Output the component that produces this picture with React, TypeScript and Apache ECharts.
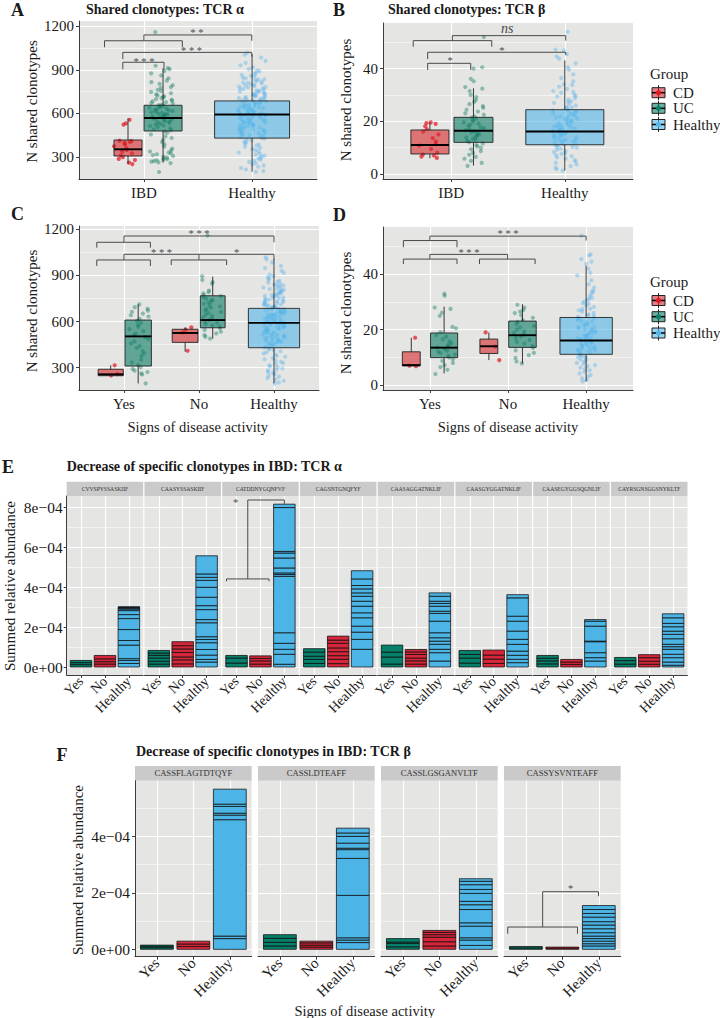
import React, { useEffect, useRef } from 'react';
import * as echarts from 'echarts';

// ====================== DATA ======================
const abCategories = ['IBD', 'Healthy'];
const activityCategories = ['Yes', 'No', 'Healthy'];
const groupNames = ['CD', 'UC', 'Healthy'];

const alphaTicks = [300, 600, 900, 1200];
const alphaMinor = [450, 750, 1050];
const betaTicks = [0, 20, 40];
const betaMinor = [10, 30, 50];

// TCR alpha: N shared clonotypes per individual
const alphaCD = [556, 531, 523, 412, 409, 404, 398, 391, 386, 374, 362, 349, 338, 326, 312, 299, 287, 279, 262, 251];
const alphaUC = [1160, 928, 912, 905, 893, 876, 861, 842, 826, 815, 803, 794, 781, 776, 762, 755, 748, 739, 731, 724, 718, 712, 705, 699, 694, 688, 683, 677, 672, 668, 661, 657, 652, 648, 644, 639, 633, 629, 626, 621, 617, 612, 608, 603, 599, 596, 591, 587, 583, 579, 574, 571, 566, 562, 557, 553, 548, 544, 539, 535, 529, 524, 518, 513, 506, 498, 491, 484, 476, 468, 455, 442, 431, 417, 402, 388, 372, 358, 346, 338, 331, 326, 319, 313, 307, 302, 296, 291, 286, 281, 277, 272, 268, 263, 258, 197];
const alphaHealthy = [1018, 1005, 985, 962, 948, 931, 918, 905, 897, 889, 880, 872, 866, 859, 853, 846, 841, 835, 829, 822, 818, 811, 806, 801, 795, 789, 784, 779, 773, 769, 764, 758, 753, 749, 744, 738, 733, 729, 724, 719, 714, 709, 705, 700, 696, 691, 686, 682, 677, 673, 668, 664, 659, 655, 651, 646, 642, 637, 633, 629, 624, 620, 616, 611, 607, 603, 598, 594, 590, 585, 581, 577, 572, 568, 564, 559, 555, 551, 546, 542, 537, 533, 528, 524, 519, 515, 510, 505, 501, 496, 491, 486, 481, 476, 471, 466, 461, 455, 450, 444, 438, 432, 426, 420, 414, 407, 400, 393, 386, 378, 371, 363, 355, 347, 339, 331, 323, 316, 309, 302, 295, 288, 281, 274, 266, 258, 250, 242, 233, 224, 215, 204, 198, 452, 468, 477, 489, 497, 508, 516, 527, 534, 545, 553, 561, 569, 578, 586, 593, 601, 609, 614, 622, 631, 639, 645, 653, 661, 670, 679, 686, 694, 703, 712, 721, 731, 742, 756, 768, 781, 797, 812, 834];
const alphaCDYes = [316, 258, 249];
const alphaCDNo = [562, 548, 530, 410];
const alphaUCYes = [712, 694, 683, 671, 664, 652, 641, 633, 618, 604, 592, 579, 566, 551, 538, 522, 511, 497, 486, 471, 458, 442, 428, 409, 393, 376, 352, 334, 318, 304, 292, 281, 272, 263, 256, 198];
const alphaUCNo = [1160, 895, 871, 858, 846, 802, 791, 783, 772, 766, 758, 749, 741, 733, 724, 716, 707, 698, 690, 681, 672, 663, 655, 646, 637, 628, 619, 611, 602, 593, 584, 576, 567, 557, 546, 534, 523, 512, 501, 490];

// TCR beta
const betaCD = [19.6, 19.3, 19.0, 18.1, 17.0, 16.1, 15.0, 13.6, 12.3, 11.6, 10.8, 9.5, 8.1, 7.4, 7.0, 6.6, 6.1];
const betaUC = [52.0, 40.5, 40.0, 36.1, 35.2, 33.0, 32.4, 31.5, 30.0, 29.2, 28.1, 27.3, 26.5, 25.8, 25.1, 24.4, 23.7, 23.0, 22.5, 21.9, 21.4, 21.0, 20.5, 20.0, 19.6, 19.2, 18.7, 18.3, 17.8, 17.4, 17.0, 16.6, 16.2, 15.8, 15.4, 15.0, 14.6, 14.2, 13.8, 13.4, 13.0, 12.5, 12.1, 11.6, 11.0, 10.5, 10.0, 9.4, 8.7, 8.0, 7.3, 6.5, 5.8, 5.0, 4.2, 3.1];
const betaHealthy = [54.0, 47.2, 46.8, 45.5, 44.6, 43.8, 42.0, 40.5, 39.6, 37.8, 36.4, 35.2, 34.0, 33.1, 32.3, 31.5, 30.8, 30.1, 29.4, 28.8, 28.2, 27.6, 27.0, 26.5, 26.0, 25.5, 25.0, 24.6, 24.2, 23.8, 23.4, 23.0, 22.6, 22.2, 21.8, 21.4, 21.0, 20.6, 20.2, 19.8, 19.4, 19.0, 18.6, 18.3, 18.0, 17.6, 17.3, 17.0, 16.7, 16.4, 16.1, 15.8, 15.5, 15.2, 14.9, 14.6, 14.3, 14.0, 13.7, 13.4, 13.1, 12.8, 12.5, 12.2, 11.9, 11.6, 11.2, 10.8, 10.4, 10.0, 9.6, 9.2, 8.8, 8.4, 8.0, 7.6, 7.2, 6.8, 6.3, 5.8, 5.3, 4.8, 4.2, 3.6, 3.0, 2.4, 1.8, 1.3, 10.3, 11.1, 12.4, 13.2, 14.1, 14.8, 15.6, 16.3, 17.1, 17.8, 18.5, 19.3, 20.1, 20.9, 21.7, 22.8, 24.1, 25.3, 27.4, 29.6, 31.2, 33.8];
const betaCDYes = [17.1, 7.0, 6.8];
const betaCDNo = [19.0, 13.9, 9.0];
const betaUCYes = [33.0, 32.3, 28.0, 27.5, 26.1, 25.0, 21.0, 20.5, 19.1, 18.0, 17.5, 16.5, 15.8, 15.1, 14.5, 14.0, 13.5, 13.0, 12.4, 12.0, 11.5, 11.0, 10.5, 10.0, 9.3, 8.7, 8.0, 7.2, 6.5, 5.5, 4.0];
const betaUCNo = [29.0, 28.0, 27.1, 26.5, 26.0, 25.2, 24.3, 23.5, 22.8, 22.0, 21.3, 20.8, 20.0, 19.4, 18.8, 18.2, 17.6, 17.0, 16.3, 15.6, 15.0, 14.2, 13.4, 12.5, 11.6, 10.8, 9.8, 8.5, 7.8];

// Box statistics: [lower whisker, Q1, median, Q3, upper whisker]
const boxAlphaCD = [250, 307, 353, 417, 566];
const boxAlphaUC = [261, 479, 568, 656, 910];
const boxAlphaHealthy = [199, 430, 592, 686, 1008];
const boxBetaCD = [6.0, 7.6, 11.0, 16.7, 19.5];
const boxBetaUC = [3.2, 12.0, 16.4, 21.5, 32.5];
const boxBetaHealthy = [1.3, 11.1, 16.1, 24.4, 43.1];
const boxAlphaCDYes = [248, 248, 257, 290, 316];
const boxAlphaUCYes = [198, 311, 504, 610, 712];
const boxAlphaCDNo = [404, 465, 526, 550, 562];
const boxAlphaUCNo = [489, 560, 610, 768, 892];
const boxBetaCDYes = [6.9, 6.9, 7.2, 12.0, 17.1];
const boxBetaUCYes = [4.2, 9.9, 13.5, 18.8, 28.3];
const boxBetaCDNo = [9.0, 11.4, 14.0, 16.6, 19.0];
const boxBetaUCNo = [7.8, 13.6, 18.0, 23.1, 29.2];

// Panels E / F: summed relative abundance, per individual segments (units of 1e-5)
const eClonotypes = ['CVVSPYSSASKIIF', 'CAASYSSASKIIF', 'CATDDNYGQNFVF', 'CAGSNTGNQFYF', 'CAASAGGATNKLIF', 'CAASGYGGATNKLIF', 'CAASEGYGGSQGNLIF', 'CAYRSGNSGGSNYKLTF'];
const eYes = [[1.2, 1.0, 1.1], [1.5, 1.4, 1.6, 1.3, 1.2, 1.3], [2.0, 2.5, 1.3], [1.8, 2.0, 1.6, 2.1, 1.7], [1.5, 3.5, 2.5, 3.5], [2.0, 2.5, 1.8, 2.0], [1.6, 1.5, 1.3, 1.4], [1.5, 1.7, 1.6]];
const eNo = [[1.5, 1.2, 1.4, 1.7], [1.6, 2.0, 1.5, 2.2, 1.8, 1.6, 2.0], [1.5, 1.6, 1.2, 1.3], [1.7, 2.2, 1.8, 2.0, 1.9, 2.3, 1.6, 2.0], [1.5, 1.6, 1.4, 1.8, 1.3, 1.2], [1.8, 2.2, 2.0, 2.5], [1.3, 1.2, 1.3], [1.4, 1.5, 1.8, 1.5]];
const eHealthy = [
  [1.8, 1.5, 0.9, 6.8, 2.3, 5.5, 5.5, 2.0, 2.0, 0.8, 0.5, 0.2, 0.2, 0.2],
  [2.5, 1.3, 2.2, 2.8, 3.4, 1.6, 1.4, 7.0, 1.6, 5.0, 2.0, 4.2, 5.0, 3.5, 1.5, 1.7, 9.1],
  [1.4, 5.0, 2.5, 3.0, 5.3, 28.3, 0.9, 0.8, 2.5, 5.0, 2.5, 0.8, 22.0, 1.7],
  [8.9, 5.0, 3.6, 3.0, 4.2, 2.5, 3.3, 2.5, 2.5, 1.7, 2.0, 1.7, 3.3, 4.1],
  [3.0, 4.2, 1.7, 2.5, 1.6, 1.7, 2.5, 5.8, 3.9, 1.1, 2.5, 1.4, 1.1, 2.5, 1.7],
  [2.2, 1.7, 2.0, 2.1, 3.4, 2.5, 4.1, 5.0, 2.5, 9.2, 1.6],
  [3.0, 1.7, 2.5, 5.5, 0.3, 7.5, 2.5, 0.8],
  [0.9, 1.6, 2.2, 1.7, 2.5, 1.3, 1.2, 2.8, 2.2, 1.6, 2.2, 1.7, 2.8, 2.0],
];
const fClonotypes = ['CASSFLAGTDTQYF', 'CASSLDTEAFF', 'CASSLGSGANVLTF', 'CASSYSVNTEAFF'];
const fYes = [[0.6, 0.5, 0.4], [1.2, 1.3, 1.4, 1.3], [0.9, 1.2, 0.5, 1.2], [0.5, 0.5]];
const fNo = [[1.0, 0.9, 1.0], [0.8, 0.7, 0.8, 0.6], [1.2, 1.5, 1.6, 0.9, 0.8, 0.7], [0.4, 0.4]];
const fHealthy = [
  [3.8, 0.9, 41.2, 1.6, 0.7, 2.4, 0.8, 5.3],
  [2.4, 0.9, 0.8, 15.0, 13.1, 3.1, 0.5, 1.8, 2.4, 1.2, 1.7],
  [1.4, 1.9, 0.8, 4.1, 1.2, 4.7, 1.7, 1.2, 2.8, 1.4, 1.7, 1.2, 0.9],
  [1.2, 0.8, 0.9, 0.9, 0.9, 1.2, 1.4, 1.3, 1.2, 1.6, 1.3, 1.4, 1.4],
];
const abundTicks = [0, 20, 40, 60, 80];
const abundMinor = [10, 30, 50, 70];
const abundTicksF = [0, 20, 40];
const abundMinorF = [10, 30, 50];

// ====================== STYLE ======================
const FONT = 'Liberation Serif';
const TXT = '#1a1a1a';
const AXIS = '#3c3c3c';
const PANEL_BG = '#e5e5e3';
const STRIP_BG = '#cacaca';
const BOX_FILL: any = { CD: 'rgba(214,40,45,0.6)', UC: 'rgba(8,122,98,0.6)', Healthy: 'rgba(77,181,233,0.58)' };
const PT_COL: any = { CD: 'rgba(228,22,36,0.9)', UC: 'rgba(22,128,100,0.55)', Healthy: 'rgba(100,183,235,0.55)' };
const KEY_PT: any = { CD: '#e4161f', UC: '#0b806a', Healthy: '#56b4e9' };
const BAR_FILL = ['#05806a', '#d7263a', '#4cb5e6'];

// deterministic horizontal jitter offset in [-1, 1] (position only, not data)
function jitter(i: number) {
  const s = Math.sin((i + 1) * 12.9898 + 78.233) * 43758.5453;
  return (s - Math.floor(s)) * 2 - 1;
}

const fmtNum = (v: number) => String(v);
const fmtSci = (v: number) => (Math.abs(v) < 1e-9 ? '0e+00' : `${Math.round(v / 10)}e\u221204`);

// ====================== BUILDERS ======================
function xAxisOpt(gi: number, min: number, max: number, cats: string[], fs: number, margin: number, rotate = 0) {
  const ticks = cats.map((_, i) => i + 1);
  return {
    type: 'value', gridIndex: gi, min, max,
    axisLine: { show: true, onZero: false, lineStyle: { color: AXIS, width: 1 } },
    axisTick: { show: true, customValues: ticks, length: 3, lineStyle: { color: AXIS, width: 1 } },
    axisLabel: {
      show: true, customValues: ticks, formatter: (v: number) => cats[Math.round(v) - 1] ?? '',
      color: TXT, fontFamily: FONT, fontSize: fs, margin, rotate,
    },
    splitLine: { show: true, lineStyle: { color: '#ffffff', width: 1.1 } },
  };
}
function yAxisOpt(gi: number, min: number, max: number, ticks: number[], fmt: any, show: boolean, fs: number, margin: number) {
  return {
    type: 'value', gridIndex: gi, min, max, position: 'left',
    axisLine: { show, onZero: false, lineStyle: { color: AXIS, width: 1 } },
    axisTick: { show, customValues: ticks, length: 3, lineStyle: { color: AXIS, width: 1 } },
    axisLabel: { show, customValues: ticks, formatter: fmt, color: TXT, fontFamily: FONT, fontSize: fs, margin },
    splitLine: { show: true, lineStyle: { color: '#ffffff', width: 1.1 } },
  };
}
function yMinorOpt(gi: number, min: number, max: number, vals: number[]) {
  return {
    type: 'value', gridIndex: gi, min, max, position: 'right',
    axisLine: { show: false, onZero: false }, axisTick: { show: false, customValues: vals },
    axisLabel: { show: false, customValues: vals },
    splitLine: { show: true, lineStyle: { color: '#ffffff', width: 0.55 } },
  };
}
function gridOpt(l: number, t: number, w: number, h: number) {
  return { left: l, top: t, width: w, height: h, show: true, backgroundColor: PANEL_BG, borderWidth: 0, containLabel: false, outerBoundsMode: 'none' };
}

function scatterSeries(gi: number, x: number, hw: number, vals: number[], g: string, seed: number) {
  return {
    type: 'scatter', xAxisIndex: gi, yAxisIndex: 2 * gi, silent: true, z: 2,
    symbolSize: 4.2, itemStyle: { color: PT_COL[g] },
    data: vals.map((v, i) => [x + jitter(i + seed) * hw, v]),
  };
}
function boxSeries(gi: number, boxes: any[]) {
  return {
    type: 'custom', xAxisIndex: gi, yAxisIndex: 2 * gi, silent: true, z: 3,
    data: boxes.map((b) => [b.x, b.w, ...b.stats]),
    encode: { x: 0, y: [2, 3, 4, 5, 6] },
    renderItem: (params: any, api: any) => {
      const b = boxes[params.dataIndex];
      const x = api.value(0);
      const w = api.value(1);
      const c = [2, 3, 4, 5, 6].map((i) => api.coord([x, api.value(i)]));
      const half = api.size([w, 0])[0] / 2;
      const cx = c[0][0];
      const st = { stroke: '#222', lineWidth: 0.9 };
      return {
        type: 'group',
        children: [
          { type: 'line', shape: { x1: cx, y1: c[0][1], x2: cx, y2: c[1][1] }, style: st },
          { type: 'line', shape: { x1: cx, y1: c[3][1], x2: cx, y2: c[4][1] }, style: st },
          { type: 'rect', shape: { x: cx - half, y: c[3][1], width: 2 * half, height: c[1][1] - c[3][1] }, style: { fill: BOX_FILL[b.g], stroke: '#222', lineWidth: 0.9 } },
          { type: 'line', shape: { x1: cx - half, y1: c[2][1], x2: cx + half, y2: c[2][1] }, style: { stroke: '#000', lineWidth: 1.9 } },
        ],
      };
    },
  };
}
function barSeries(gi: number, segLists: number[][]) {
  return {
    type: 'custom', xAxisIndex: gi, yAxisIndex: 2 * gi, silent: true, z: 3,
    data: segLists.map((segs, i) => [i + 1, segs.reduce((a, b) => a + b, 0)]),
    renderItem: (params: any, api: any) => {
      const i = params.dataIndex;
      const x = api.value(0);
      const children: any[] = [];
      let cum = 0;
      for (const s of segLists[i]) {
        const p0 = api.coord([x - 0.45, cum]);
        const p1 = api.coord([x + 0.45, cum + s]);
        children.push({
          type: 'rect',
          shape: { x: p0[0], y: p1[1], width: p1[0] - p0[0], height: p0[1] - p1[1] },
          style: { fill: BAR_FILL[i], stroke: 'rgba(15,15,15,0.85)', lineWidth: 0.9 },
        });
        cum += s;
      }
      return { type: 'group', children };
    },
  };
}
function bracketSeries(gi: number, poly: number[][]) {
  return {
    type: 'line', xAxisIndex: gi, yAxisIndex: 2 * gi, silent: true, z: 4,
    symbol: 'none', data: poly, lineStyle: { color: '#4a4a4a', width: 1 }, clip: false,
  };
}
function labelSeries(gi: number, labels: any[]) {
  return {
    type: 'custom', xAxisIndex: gi, yAxisIndex: 2 * gi, silent: true, z: 5,
    data: labels.map((l) => [l.x, l.y]),
    renderItem: (params: any, api: any) => {
      const l = labels[params.dataIndex];
      const p = api.coord([api.value(0), api.value(1)]);
      return {
        type: 'text', x: p[0], y: p[1],
        style: {
          text: l.t, fill: '#4a4a4a', fontSize: l.italic ? 14 : 10.5, fontFamily: FONT,
          fontStyle: l.italic ? 'italic' : 'normal',
          align: 'center', verticalAlign: 'middle', textAlign: 'center', textVerticalAlign: 'middle',
        },
      };
    },
  };
}

// ====================== PANELS A-D ======================
const panelsAD = [
  {
    grid: [79, 21, 238, 158], xr: [0.4, 2.6], yr: [148.6, 1236], cats: abCategories,
    ticks: alphaTicks, minor: alphaMinor,
    boxes: [
      { x: 0.853, w: 0.259, stats: boxAlphaCD, g: 'CD' },
      { x: 1.177, w: 0.351, stats: boxAlphaUC, g: 'UC' },
      { x: 2.0, w: 0.693, stats: boxAlphaHealthy, g: 'Healthy' },
    ],
    points: [
      { x: 0.82, hw: 0.1, vals: alphaCD, g: 'CD' },
      { x: 1.16, hw: 0.11, vals: alphaUC, g: 'UC' },
      { x: 2.0, hw: 0.13, vals: alphaHealthy, g: 'Healthy' },
    ],
    brackets: [
      [[0.805, 904], [0.805, 952], [1.186, 952], [1.186, 904]],
      [[0.805, 974], [0.805, 1020], [1.997, 1020], [1.997, 990]],
      [[0.636, 1055], [0.636, 1100], [1.355, 1100], [1.355, 1055]],
      [[1.0, 1100], [1.0, 1140], [1.997, 1140], [1.997, 1100]],
    ],
    labels: [
      { x: 1.0, y: 958, t: '* * *' },
      { x: 1.44, y: 1032, t: '* * *' },
      { x: 1.49, y: 1160, t: '* *' },
    ],
  },
  {
    grid: [383, 23, 250, 156], xr: [0.4, 2.6], yr: [-1.9, 57.3], cats: abCategories,
    ticks: betaTicks, minor: betaMinor,
    boxes: [
      { x: 0.813, w: 0.335, stats: boxBetaCD, g: 'CD' },
      { x: 1.196, w: 0.343, stats: boxBetaUC, g: 'UC' },
      { x: 2.0, w: 0.687, stats: boxBetaHealthy, g: 'Healthy' },
    ],
    points: [
      { x: 0.8, hw: 0.09, vals: betaCD, g: 'CD' },
      { x: 1.2, hw: 0.09, vals: betaUC, g: 'UC' },
      { x: 2.0, hw: 0.11, vals: betaHealthy, g: 'Healthy' },
    ],
    brackets: [
      [[0.793, 39.5], [0.793, 42.0], [1.172, 42.0], [1.172, 39.5]],
      [[0.793, 43.6], [0.793, 46.2], [2.008, 46.2], [2.008, 45.2]],
      [[0.666, 48.3], [0.666, 50.6], [1.357, 50.6], [1.357, 48.3]],
      [[1.01, 50.6], [1.01, 52.5], [2.008, 52.5], [2.008, 50.6]],
    ],
    labels: [
      { x: 0.99, y: 43.0, t: '*' },
      { x: 1.445, y: 47.0, t: '*' },
      { x: 1.494, y: 55.3, t: 'ns', italic: true },
    ],
  },
  {
    grid: [79, 226, 240, 164], xr: [0.4, 3.6], yr: [155, 1222], cats: activityCategories,
    ticks: alphaTicks, minor: alphaMinor,
    boxes: [
      { x: 0.823, w: 0.335, stats: boxAlphaCDYes, g: 'CD' },
      { x: 1.189, w: 0.352, stats: boxAlphaUCYes, g: 'UC' },
      { x: 1.815, w: 0.344, stats: boxAlphaCDNo, g: 'CD' },
      { x: 2.183, w: 0.331, stats: boxAlphaUCNo, g: 'UC' },
      { x: 3.0, w: 0.683, stats: boxAlphaHealthy, g: 'Healthy' },
    ],
    points: [
      { x: 0.86, hw: 0.06, vals: alphaCDYes, g: 'CD' },
      { x: 1.2, hw: 0.13, vals: alphaUCYes, g: 'UC' },
      { x: 1.83, hw: 0.1, vals: alphaCDNo, g: 'CD' },
      { x: 2.17, hw: 0.13, vals: alphaUCNo, g: 'UC' },
      { x: 3.0, hw: 0.15, vals: alphaHealthy, g: 'Healthy' },
    ],
    brackets: [
      [[0.637, 1081], [0.637, 1116], [1.352, 1116], [1.352, 1081]],
      [[1.0, 1116], [1.0, 1157], [3.0, 1157], [3.0, 1116]],
      [[0.637, 962], [0.637, 1001], [1.352, 1001], [1.352, 962]],
      [[1.63, 968], [1.63, 1001], [2.368, 1001], [2.368, 968]],
      [[1.0, 1001], [1.0, 1038], [3.0, 1038], [3.0, 1001]],
      [[2.0, 1038], [2.0, 1001]],
    ],
    labels: [
      { x: 2.0, y: 1175, t: '* * *' },
      { x: 1.5, y: 1048, t: '* * *' },
      { x: 2.5, y: 1052, t: '*' },
    ],
  },
  {
    grid: [383, 227, 250, 163], xr: [0.4, 3.6], yr: [-1.8, 57.1], cats: activityCategories,
    ticks: betaTicks, minor: betaMinor,
    boxes: [
      { x: 0.762, w: 0.229, stats: boxBetaCDYes, g: 'CD' },
      { x: 1.182, w: 0.347, stats: boxBetaUCYes, g: 'UC' },
      { x: 1.755, w: 0.229, stats: boxBetaCDNo, g: 'CD' },
      { x: 2.185, w: 0.352, stats: boxBetaUCNo, g: 'UC' },
      { x: 3.0, w: 0.67, stats: boxBetaHealthy, g: 'Healthy' },
    ],
    points: [
      { x: 0.8, hw: 0.08, vals: betaCDYes, g: 'CD' },
      { x: 1.2, hw: 0.14, vals: betaUCYes, g: 'UC' },
      { x: 1.8, hw: 0.1, vals: betaCDNo, g: 'CD' },
      { x: 2.2, hw: 0.14, vals: betaUCNo, g: 'UC' },
      { x: 3.0, hw: 0.12, vals: betaHealthy, g: 'Healthy' },
    ],
    brackets: [
      [[0.661, 49.8], [0.661, 52.2], [1.347, 52.2], [1.347, 49.8]],
      [[1.0, 52.2], [1.0, 53.8], [3.0, 53.8], [3.0, 52.2]],
      [[0.661, 43.7], [0.661, 45.5], [1.347, 45.5], [1.347, 43.7]],
      [[1.635, 43.7], [1.635, 45.5], [2.347, 45.5], [2.347, 43.7]],
      [[1.0, 45.5], [1.0, 47.2], [1.995, 47.2], [1.995, 45.5]],
    ],
    labels: [
      { x: 2.0, y: 54.9, t: '* * *' },
      { x: 1.5, y: 47.9, t: '* * *' },
    ],
  },
];

// ====================== FACETS E / F ======================
const E_LEFT = 66.7, E_STEP = 77.75, E_W = 76.5, E_TOP = 496, E_H = 179;
const F_LEFT = 135, F_STEP = 123, F_W = 116.7, F_TOP = 780.7, F_H = 176;

function buildOption() {
  const grid: any[] = [];
  const xAxis: any[] = [];
  const yAxis: any[] = [];
  const series: any[] = [];
  const graphic: any[] = [];

  panelsAD.forEach((p, gi) => {
    grid.push(gridOpt(p.grid[0], p.grid[1], p.grid[2], p.grid[3]));
    xAxis.push(xAxisOpt(gi, p.xr[0], p.xr[1], p.cats, 15, 6));
    yAxis.push(yAxisOpt(gi, p.yr[0], p.yr[1], p.ticks, fmtNum, true, 15, 5));
    yAxis.push(yMinorOpt(gi, p.yr[0], p.yr[1], p.minor));
    p.points.forEach((pt, k) => series.push(scatterSeries(gi, pt.x, pt.hw, pt.vals, pt.g, k * 37 + gi * 11)));
    series.push(boxSeries(gi, p.boxes));
    p.brackets.forEach((b) => series.push(bracketSeries(gi, b)));
    series.push(labelSeries(gi, p.labels));
  });

  let gi = panelsAD.length;
  eClonotypes.forEach((name, i) => {
    const l = E_LEFT + i * E_STEP;
    grid.push(gridOpt(l, E_TOP, E_W, E_H));
    xAxis.push(xAxisOpt(gi, 0.4, 3.6, activityCategories, 14, 4, 45));
    yAxis.push(yAxisOpt(gi, -4.0, 85.8, abundTicks, fmtSci, i === 0, 15.5, 4));
    yAxis.push(yMinorOpt(gi, -4.0, 85.8, abundMinor));
    series.push(barSeries(gi, [eYes[i], eNo[i], eHealthy[i]]));
    if (i === 2) {
      series.push(bracketSeries(gi, [[0.58, 43.0], [0.58, 44.2], [2.36, 44.2], [2.36, 43.0]]));
      series.push(bracketSeries(gi, [[1.47, 44.2], [1.47, 83.8], [3.0, 83.8], [3.0, 81.8]]));
      series.push(labelSeries(gi, [{ x: 0.96, y: 82.6, t: '*' }]));
    }
    graphic.push({ type: 'rect', shape: { x: l, y: 481.7, width: E_W, height: 14.3 }, style: { fill: STRIP_BG } });
    graphic.push(textEl(l + E_W / 2, 489, name, 5.6, 'normal', 'center', '#333'));
    gi++;
  });
  fClonotypes.forEach((name, j) => {
    const l = F_LEFT + j * F_STEP;
    grid.push(gridOpt(l, F_TOP, F_W, F_H));
    xAxis.push(xAxisOpt(gi, 0.4, 3.6, activityCategories, 15, 4, 45));
    yAxis.push(yAxisOpt(gi, -2.6, 59.7, abundTicksF, fmtSci, j === 0, 15.5, 5));
    yAxis.push(yMinorOpt(gi, -2.6, 59.7, abundMinorF));
    series.push(barSeries(gi, [fYes[j], fNo[j], fHealthy[j]]));
    if (j === 3) {
      series.push(bracketSeries(gi, [[0.503, 5.5], [0.503, 7.9], [2.415, 7.9], [2.415, 5.5]]));
      series.push(bracketSeries(gi, [[1.46, 7.9], [1.46, 20.4], [2.99, 20.4], [2.99, 18.8]]));
      series.push(labelSeries(gi, [{ x: 2.23, y: 21.7, t: '*' }]));
    }
    graphic.push({ type: 'rect', shape: { x: l, y: 766, width: F_W, height: 14.7 }, style: { fill: STRIP_BG } });
    graphic.push(textEl(l + F_W / 2, 773.3, name, 8.6, 'normal', 'center', '#333'));
    gi++;
  });

  // panel letters and titles
  graphic.push(textEl(11, 9.5, 'A', 18, 'bold', 'left'));
  graphic.push(textEl(86, 9.5, 'Shared clonotypes: TCR \u03b1', 14, 'bold', 'left'));
  graphic.push(textEl(333, 9.5, 'B', 18, 'bold', 'left'));
  graphic.push(textEl(388, 9.5, 'Shared clonotypes: TCR \u03b2', 14, 'bold', 'left'));
  graphic.push(textEl(11, 214, 'C', 18, 'bold', 'left'));
  graphic.push(textEl(333, 215, 'D', 18, 'bold', 'left'));
  graphic.push(textEl(2, 467, 'E', 18, 'bold', 'left'));
  graphic.push(textEl(66.7, 466.7, 'Decrease of specific clonotypes in IBD: TCR \u03b1', 14, 'bold', 'left'));
  graphic.push(textEl(56.5, 755, 'F', 18, 'bold', 'left'));
  graphic.push(textEl(136, 751.7, 'Decrease of specific clonotypes in IBD: TCR \u03b2', 14, 'bold', 'left'));

  // axis titles
  graphic.push(rotText(31.7, 101.5, 'N shared clonotypes', 15));
  graphic.push(rotText(346, 100, 'N shared clonotypes', 15));
  graphic.push(rotText(31.7, 311, 'N shared clonotypes', 15));
  graphic.push(rotText(346, 313, 'N shared clonotypes', 15));
  graphic.push(rotText(9.5, 586, 'Summed relative abundance', 15));
  graphic.push(rotText(78.3, 870, 'Summed relative abundance', 15));
  graphic.push(textEl(197.7, 426.7, 'Signs of disease activity', 14.5, 'normal', 'center'));
  graphic.push(textEl(508, 426.7, 'Signs of disease activity', 14.5, 'normal', 'center'));
  graphic.push(textEl(364.7, 1010.5, 'Signs of disease activity', 14.5, 'normal', 'center'));

  // legends
  legend(graphic, 74, [92.7, 108.3, 124.5]);
  legend(graphic, 281.7, [300.5, 316.7, 333]);

  return {
    animation: false,
    backgroundColor: '#ffffff',
    grid, xAxis, yAxis, series, graphic,
  };
}

function textEl(x: number, y: number, text: string, size: number, weight: string, align: string, color = TXT) {
  return {
    type: 'text', x, y, silent: true, z: 10,
    style: {
      text, fill: color, fontSize: size, fontWeight: weight, fontFamily: FONT,
      align, verticalAlign: 'middle', textAlign: align, textVerticalAlign: 'middle',
    },
  };
}
function rotText(x: number, y: number, text: string, size: number) {
  return {
    type: 'text', x, y, rotation: Math.PI / 2, silent: true, z: 10,
    style: {
      text, fill: TXT, fontSize: size, fontFamily: FONT,
      align: 'center', verticalAlign: 'middle', textAlign: 'center', textVerticalAlign: 'middle',
    },
  };
}
function legend(graphic: any[], titleY: number, ys: number[]) {
  graphic.push(textEl(650, titleY, 'Group', 15, 'normal', 'left'));
  groupNames.forEach((g, i) => {
    const y = ys[i];
    const x = 652;
    graphic.push({
      type: 'group', silent: true, z: 10,
      children: [
        { type: 'rect', shape: { x: x - 1, y: y - 8, width: 15, height: 16 }, style: { fill: '#ffffff' } },
        { type: 'line', shape: { x1: x + 6.5, y1: y - 7.5, x2: x + 6.5, y2: y + 7.5 }, style: { stroke: '#222', lineWidth: 1 } },
        { type: 'rect', shape: { x, y: y - 5, width: 13, height: 10 }, style: { fill: BOX_FILL[g], stroke: '#222', lineWidth: 1 } },
        { type: 'line', shape: { x1: x, y1: y, x2: x + 13, y2: y }, style: { stroke: '#000', lineWidth: 1.5 } },
        { type: 'circle', shape: { cx: x + 6.5, cy: y, r: 2.6 }, style: { fill: KEY_PT[g] } },
      ],
    });
    graphic.push(textEl(673, y, g, 15, 'normal', 'left'));
  });
}

export default function App() {
  const ref = useRef<HTMLDivElement>(null);
  useEffect(() => {
    if (!ref.current) return;
    const chart = echarts.init(ref.current, null, { renderer: 'svg' });
    chart.setOption(buildOption() as any);
    return () => chart.dispose();
  }, []);
  return (
    <div
      ref={ref}
      style={{ position: 'absolute', left: 0, top: 0, width: 720, height: 1018, background: '#fff' }}
    />
  );
}
